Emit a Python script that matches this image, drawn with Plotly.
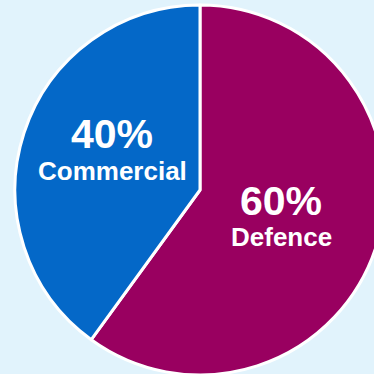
import plotly.graph_objects as go

labels = ["Defence", "Commercial"]
values = [60, 40]
colors = ["#990060", "#0468C8"]

W, H = 400, 400
cx, cy, r = 200, 190, 185

fig = go.Figure(go.Pie(
    labels=labels, values=values, sort=False, direction="clockwise", rotation=0,
    marker=dict(colors=colors, line=dict(color="white", width=3)),
    textinfo="none", hoverinfo="label+percent", showlegend=False,
    domain=dict(x=[(cx - r) / W, (cx + r) / W], y=[1 - (cy + r) / H, 1 - (cy - r) / H]),
))

# label positions (pixels) for each slice: (x, y_pct, y_name)
label_pos = {"Defence": (281, 201, 237), "Commercial": (112, 134, 171)}
fnt = "Liberation Sans, Arial, sans-serif"
for lab, val in zip(labels, values):
    x, yp, yn = label_pos[lab]
    fig.add_annotation(x=x / W, y=1 - yp / H, xref="paper", yref="paper", showarrow=False,
                       text=f"<b>{val}%</b>", font=dict(family=fnt, size=41, color="white"),
                       xanchor="center", yanchor="middle")
    fig.add_annotation(x=x / W, y=1 - yn / H, xref="paper", yref="paper", showarrow=False,
                       text=f"<b>{lab}</b>", font=dict(family=fnt, size=26, color="white"),
                       xanchor="center", yanchor="middle")

fig.update_layout(width=W, height=H, margin=dict(l=0, r=0, t=0, b=0),
                  paper_bgcolor="#E1F3FC", plot_bgcolor="#E1F3FC")

fig.write_html("out.html", config={"displayModeBar": False},
               post_script="document.body.style.margin='0';document.body.style.overflow='hidden';document.documentElement.style.overflow='hidden';")
